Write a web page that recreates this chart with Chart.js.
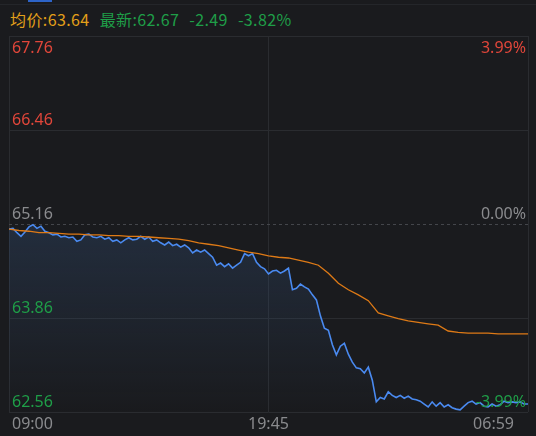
<!DOCTYPE html>
<html>
<head>
<meta charset="utf-8">
<script src="https://cdn.jsdelivr.net/npm/chart.js@4"></script>
<style>
  body { margin: 0; background: #1a1b1e; overflow: hidden; }
  #wrap { position: relative; width: 536px; height: 436px; }
  #tab { position: absolute; left: 28px; top: 0; width: 24px; height: 2px; background: #2d64c8; }
  #topline { position: absolute; left: 0; top: 4px; width: 536px; height: 1px; background: #24262a; }
  #header { position: absolute; left: 10px; top: 7px; font: 16px "Noto Sans CJK SC", "Noto Sans", sans-serif; letter-spacing: 0.4px; white-space: nowrap; }
  #header span { display: inline-block; }
  #header .avg { color: #e3a019; }
  #header .last { color: #1f9e48; margin-left: 10px; }
  #header .chg { color: #1f9e48; margin-left: 10px; }
  canvas { position: absolute; left: 0; top: 0; }
</style>
</head>
<body>
<div id="wrap">
  <div id="tab"></div>
  <div id="topline"></div>
  <div id="header"></div>
  <canvas id="chart" width="536" height="436"></canvas>
</div>
<script>
// header numbers
const avgPrice = "63.64";
const lastPrice = "62.67";
const change = "-2.49";
const changePct = "-3.82%";

// time axis: 09:00 -> 06:59 next day, in minutes
const totalMinutes = 1319;
const timeLabels = ["09:00", "19:45", "06:59"];

// price sampled evenly over the session
const priceValues = [
  65.09, 65.10, 65.04, 64.99, 65.05, 65.12, 65.15, 65.10, 65.13, 65.06,
  65.04, 65.01, 65.02, 64.98, 64.99, 64.97, 64.98, 64.92, 64.94, 65.01,
  65.02, 64.98, 64.97, 64.99, 64.95, 64.97, 64.92, 64.94, 64.90, 64.94,
  64.97, 64.94, 64.95, 64.99, 64.95, 64.98, 64.92, 64.94, 64.90, 64.87,
  64.91, 64.86, 64.88, 64.84, 64.87, 64.83, 64.76, 64.80, 64.77, 64.80,
  64.75, 64.70, 64.59, 64.62, 64.57, 64.61, 64.55, 64.59, 64.63, 64.75,
  64.72, 64.75, 64.63, 64.57, 64.54, 64.47, 64.51, 64.52, 64.48, 64.51,
  64.55, 64.25, 64.27, 64.33, 64.29, 64.26, 64.18, 64.11, 63.89, 63.72,
  63.69, 63.49, 63.35, 63.47, 63.51, 63.36, 63.25, 63.17, 63.16, 63.10,
  63.18, 63.00, 62.70, 62.76, 62.74, 62.84, 62.79, 62.76, 62.79, 62.75,
  62.78, 62.74, 62.73, 62.71, 62.67, 62.63, 62.70, 62.64, 62.69, 62.63,
  62.66, 62.62, 62.60, 62.59, 62.64, 62.69, 62.71, 62.67, 62.69, 62.64,
  62.63, 62.67, 62.64, 62.66, 62.71, 62.69, 62.70, 62.69, 62.70, 62.67,
  62.67,
];

// average price sampled evenly over the session
const avgValues = [
  65.09, 65.07, 65.06, 65.04, 65.04, 65.03, 65.02, 65.02, 65.01, 65.01,
  65.00, 65.00, 64.99, 64.99, 64.98, 64.97, 64.96, 64.95, 64.93, 64.90,
  64.88, 64.86, 64.83, 64.80, 64.77, 64.75, 64.72, 64.70, 64.69, 64.66,
  64.63, 64.59, 64.48, 64.34, 64.25, 64.18, 64.10, 63.93, 63.89, 63.85,
  63.82, 63.80, 63.78, 63.76, 63.68, 63.66, 63.65, 63.65, 63.65, 63.64,
  63.64, 63.64, 63.64,
];

// y labels
const prevClose = 65.16;
const leftTickValues = [67.76, 66.46, 65.16, 63.86, 62.56];
const rightTickLabels = ["3.99%", "", "0.00%", "", "-3.99%"];

const red = "#e0463a";
const green = "#1f9e48";
const gray = "#8a8b8e";
const gridColor = "#2a2c30";

document.getElementById("header").innerHTML =
  `<span class="avg">均价:${avgPrice}</span><span class="last">最新:${lastPrice}</span>` +
  `<span class="chg">${change}</span><span class="chg">${changePct}</span>`;

function toPoints(values) {
  const step = totalMinutes / (values.length - 1);
  return values.map((v, i) => ({ x: i * step, y: v }));
}

function labelColor(value) {
  if (value > prevClose) return red;
  if (value < prevClose) return green;
  return gray;
}

const labelPlugin = {
  id: "labels",
  beforeDatasetsDraw(chart) {
    const ctx = chart.ctx;
    const area = chart.chartArea;
    const y = chart.scales.y.getPixelForValue(prevClose);
    ctx.save();
    ctx.strokeStyle = "#44464b";
    ctx.lineWidth = 1;
    ctx.setLineDash([3, 3]);
    ctx.beginPath();
    ctx.moveTo(area.left, Math.round(y) + 0.5);
    ctx.lineTo(area.right, Math.round(y) + 0.5);
    ctx.stroke();
    ctx.restore();
  },
  afterDraw(chart) {
    const ctx = chart.ctx;
    const area = chart.chartArea;
    const yScale = chart.scales.y;
    const xScale = chart.scales.x;
    ctx.save();
    ctx.font = '16px "Noto Sans", sans-serif';
    ctx.textBaseline = "alphabetic";
    leftTickValues.forEach((v, i) => {
      const py = yScale.getPixelForValue(v);
      const base = i === 0 ? py + 17 : py - 5;
      ctx.fillStyle = labelColor(v);
      ctx.textAlign = "left";
      ctx.fillText(v.toFixed(2), area.left + 3, base);
      if (rightTickLabels[i]) {
        ctx.textAlign = "right";
        ctx.fillText(rightTickLabels[i], area.right - 2, base);
      }
    });
    ctx.fillStyle = gray;
    const xs = [0, totalMinutes / 2, totalMinutes];
    const aligns = ["left", "center", "right"];
    xs.forEach((m, i) => {
      ctx.textAlign = aligns[i];
      let px = xScale.getPixelForValue(m);
      if (i === 0) px += 3;
      if (i === 2) px -= 14;
      ctx.fillText(timeLabels[i], px, area.bottom + 17);
    });
    ctx.restore();
  },
};

function initializeChart() {
  const ctx = document.getElementById("chart").getContext("2d");

  const fillGradient = ctx.createLinearGradient(0, 225, 0, 412);
  fillGradient.addColorStop(0, "rgba(52, 80, 120, 0.35)");
  fillGradient.addColorStop(1, "rgba(52, 80, 120, 0.0)");

  new Chart(ctx, {
    type: "line",
    data: {
      datasets: [
        {
          label: "最新",
          data: toPoints(priceValues),
          borderColor: "#4a8af0",
          borderWidth: 1.6,
          pointRadius: 0,
          tension: 0,
          fill: "start",
          backgroundColor: fillGradient,
          order: 2,
        },
        {
          label: "均价",
          data: toPoints(avgValues),
          borderColor: "#de7a16",
          borderWidth: 1.3,
          pointRadius: 0,
          tension: 0,
          fill: false,
          order: 1,
        },
      ],
    },
    options: {
      responsive: false,
      animation: false,
      layout: { padding: { left: 9, right: 8, top: 36, bottom: 24 } },
      plugins: {
        legend: { display: false },
        tooltip: { enabled: false },
      },
      scales: {
        x: {
          type: "linear",
          min: 0,
          max: totalMinutes,
          afterBuildTicks: (scale) => {
            scale.ticks = [0, totalMinutes / 2, totalMinutes].map((v) => ({ value: v }));
          },
          ticks: { display: false },
          grid: { color: gridColor, drawTicks: false, lineWidth: 1 },
          border: { display: false },
        },
        y: {
          type: "linear",
          min: leftTickValues[leftTickValues.length - 1],
          max: leftTickValues[0],
          afterBuildTicks: (scale) => {
            scale.ticks = leftTickValues.map((v) => ({ value: v }));
          },
          ticks: { display: false },
          grid: {
            color: (c) => (c.tick && c.tick.value === prevClose ? "rgba(0,0,0,0)" : gridColor),
            drawTicks: false,
            lineWidth: 1,
          },
          border: { display: false },
        },
      },
    },
    plugins: [labelPlugin],
  });
}

initializeChart();
</script>
</body>
</html>
